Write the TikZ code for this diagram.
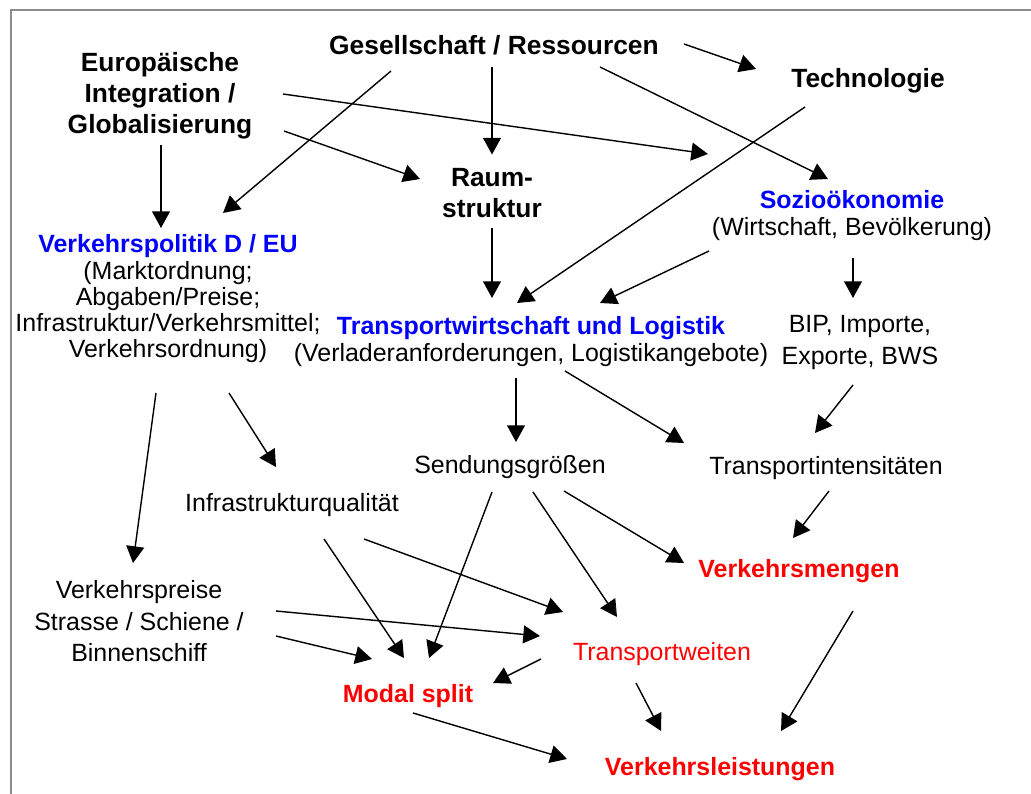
\documentclass[tikz,border=0pt]{standalone}
\usepackage{fontspec}
\setmainfont{Liberation Sans}
\usetikzlibrary{arrows.meta,calc}
\definecolor{rahmen}{HTML}{8C8C8C}
\definecolor{blau}{HTML}{0000FF}
\definecolor{rot}{HTML}{FF0000}

\begin{document}
\begin{tikzpicture}[x=0.02cm,y=-0.02cm,
    every node/.style={inner sep=0pt,align=center,text depth=0pt,font=\fontsize{14.2}{17.8}\selectfont},
    kopf/.style={font=\fontsize{15}{17.9}\selectfont\bfseries},
    eng/.style={font=\fontsize{14.2}{14.8}\selectfont},
    ziel/.style={font=\fontsize{14.2}{17.8}\selectfont\bfseries,text=rot},
    pfeil/.style={-{Triangle[length=9.5pt,width=10.2pt]},line width=0.8pt}]
    \useasboundingbox (0,0) rectangle (1031,794);
    \draw[rahmen,line width=1.2pt] (1031,10) -- (11,10) -- (11,794);

    % Einflussfaktoren
    \node[kopf] (ges) at (494,45) {Gesellschaft / Ressourcen};
    \node[kopf] (eur) at (160,93) {Europäische\\Integration /\\Globalisierung};
    \node[kopf] (tech) at (868,78) {Technologie};
    \node[kopf] (raum) at (492,193) {Raum-\\struktur};
    \node[eng] (vp) at (168,296) {{\bfseries\color{blau}Verkehrspolitik D / EU}\\[0.6pt]
      (Marktordnung;\\Abgaben/Preise;\\Infrastruktur/Verkehrsmittel;\\Verkehrsordnung)};
    \node[eng] (soz) at (852,213) {{\bfseries\color{blau}Sozioökonomie}\\[1pt]
      (Wirtschaft, Bevölkerung)};
    \node[eng] (tw) at (531,339) {{\bfseries\color{blau}Transportwirtschaft und Logistik}\\[1pt]
      (Verladeranforderungen, Logistikangebote)};
    \node (bip) at (860,340) {BIP, Importe,\\Exporte, BWS};

    % Zwischengroessen
    \node (sg) at (510,464) {Sendungsgrößen};
    \node (ti) at (826,465) {Transportintensitäten};
    \node (iq) at (292,502) {Infrastrukturqualität};
    \node (vpr) at (139,621) {Verkehrspreise\\Strasse / Schiene /\\Binnenschiff};

    % Ergebnisse
    \node[ziel] (vm) at (799,568) {Verkehrsmengen};
    \node[text=rot] (tweit) at (662,651) {Transportweiten};
    \node[ziel] (ms) at (408,693) {Modal split};
    \node[ziel] (vl) at (720,766) {Verkehrsleistungen};

    % Wirkungen
    \draw[pfeil] ($(ges)+(-2,22)$) -- ($(raum)+(0,-38.5)$);
    \draw[pfeil] ($(ges)+(-103,26)$) -- ($(vp)+(55,-83)$);
    \draw[pfeil] ($(ges)+(190,-1)$) -- ($(tech)+(-112,-9)$);
    \draw[pfeil] ($(ges)+(106,22)$) -- ($(soz)+(-24,-34)$);
    \draw[pfeil] ($(eur)+(1,52)$) -- ($(vp)+(-7,-68)$);
    \draw[pfeil] ($(eur)+(124,38)$) -- ($(raum)+(-72,-14)$);
    \draw[pfeil] ($(eur)+(123,1)$) -- ($(soz)+(-144,-59)$);
    \draw[pfeil] ($(raum)+(0,34.5)$) -- ($(tw)+(-39,-41)$);
    \draw[pfeil] ($(tech)+(-63,29)$) -- ($(tw)+(-14,-36)$);
    \draw[pfeil] ($(soz)+(-143,38)$) -- ($(tw)+(69,-36)$);
    \draw[pfeil] ($(soz)+(1,45)$) -- ($(bip)+(-7,-42)$);
    \draw[pfeil] ($(vp)+(-12,97)$) -- ($(vpr)+(-6,-58)$);
    \draw[pfeil] ($(vp)+(61,97)$) -- ($(iq)+(-16,-35)$);
    \draw[pfeil] ($(tw)+(-15,39)$) -- ($(sg)+(6,-22)$);
    \draw[pfeil] ($(tw)+(34,32)$) -- ($(ti)+(-142,-22)$);
    \draw[pfeil] ($(bip)+(-7,45)$) -- ($(ti)+(-11,-32)$);
    \draw[pfeil] ($(sg)+(-18,28)$) -- ($(ms)+(21,-35)$);
    \draw[pfeil] ($(sg)+(23,28)$) -- ($(tweit)+(-45,-34)$);
    \draw[pfeil] ($(sg)+(54,27)$) -- ($(vm)+(-115,-5)$);
    \draw[pfeil] ($(ti)+(3,26)$) -- ($(vm)+(-6,-30)$);
    \draw[pfeil] ($(iq)+(32,37)$) -- ($(ms)+(-4,-35)$);
    \draw[pfeil] ($(iq)+(72,37)$) -- ($(tweit)+(-99,-39)$);
    \draw[pfeil] ($(vpr)+(137,-10)$) -- ($(tweit)+(-122,-15)$);
    \draw[pfeil] ($(vpr)+(137,15)$) -- ($(ms)+(-36,-34)$);
    \draw[pfeil] ($(tweit)+(-121,8)$) -- ($(ms)+(85,-10)$);
    \draw[pfeil] ($(tweit)+(-26,32)$) -- ($(vl)+(-59,-35)$);
    \draw[pfeil] ($(vm)+(54,43)$) -- ($(vl)+(61,-35)$);
    \draw[pfeil] ($(ms)+(5,20)$) -- ($(vl)+(-153,-7)$);
\end{tikzpicture}
\end{document}
